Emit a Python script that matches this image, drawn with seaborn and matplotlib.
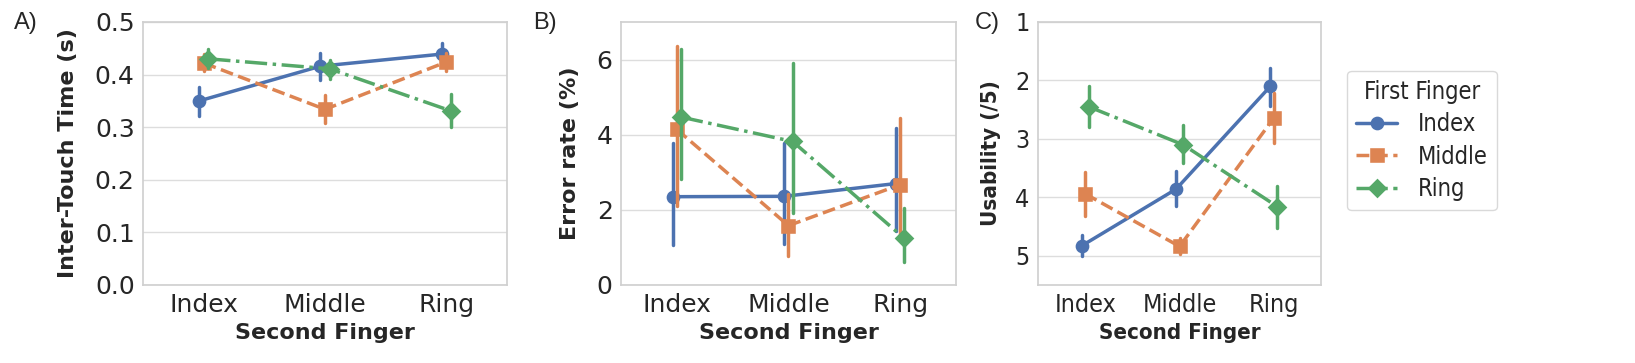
import numpy as np
import pandas as pd
import matplotlib
matplotlib.use("Agg")
import matplotlib.pyplot as plt
from matplotlib.font_manager import FontProperties
import seaborn as sns

# categories
fingers = ["Index", "Middle", "Ring"]

# values are listed per first finger (hue), in order of second finger
# A) inter-touch time (s): mean, lower CI, upper CI
time_mean = {"Index": [0.350, 0.416, 0.439], "Middle": [0.422, 0.334, 0.424], "Ring": [0.430, 0.411, 0.331]}
time_lo = {"Index": [0.322, 0.390, 0.425], "Middle": [0.406, 0.308, 0.406], "Ring": [0.412, 0.392, 0.301]}
time_hi = {"Index": [0.376, 0.442, 0.461], "Middle": [0.440, 0.362, 0.442], "Ring": [0.449, 0.428, 0.363]}

# B) error rate (%)
err_mean = {"Index": [2.35, 2.36, 2.70], "Middle": [4.14, 1.58, 2.67], "Ring": [4.47, 3.82, 1.24]}
err_lo = {"Index": [1.06, 1.08, 1.43], "Middle": [2.10, 0.77, 1.30], "Ring": [2.83, 1.91, 0.60]}
err_hi = {"Index": [3.79, 3.77, 4.19], "Middle": [6.35, 2.42, 4.45], "Ring": [6.27, 5.91, 2.04]}

# C) usability (/5)
use_mean = {"Index": [4.83, 3.86, 2.10], "Middle": [3.94, 4.84, 2.64], "Ring": [2.45, 3.10, 4.16]}
use_lo = {"Index": [4.64, 3.55, 1.79], "Middle": [3.57, 4.69, 2.22], "Ring": [2.09, 2.76, 3.81]}
use_hi = {"Index": [5.01, 4.15, 2.44], "Middle": [4.32, 4.97, 3.07], "Ring": [2.80, 3.42, 4.52]}


def long_table(mean, lo, hi):
    # three rows per point: lower CI, mean, upper CI -> median gives mean, full range gives CI
    rows = []
    for first in fingers:
        for i, second in enumerate(fingers):
            for v in (lo[first][i], mean[first][i], hi[first][i]):
                rows.append({"First Finger": first, "Second Finger": second, "value": v})
    return pd.DataFrame(rows)


sns.set_theme(style="whitegrid", font="DejaVu Sans")
plt.rcParams["axes.edgecolor"] = "#d0d0d0"
plt.rcParams["grid.color"] = "#dddddd"

fig = plt.figure(figsize=(16.35, 3.63), dpi=100)
ax_a = fig.add_axes([0.0875, 0.2149, 0.2226, 0.7245])
ax_b = fig.add_axes([0.3798, 0.2149, 0.2049, 0.7245])
ax_c = fig.add_axes([0.6349, 0.2149, 0.1731, 0.7245])

panels = [
    (ax_a, long_table(time_mean, time_lo, time_hi), "Inter-Touch Time (s)", "normal", 12),
    (ax_b, long_table(err_mean, err_lo, err_hi), "Error rate (%)", "normal", 12),
    (ax_c, long_table(use_mean, use_lo, use_hi), "Usability (/5)", "condensed", 10),
]

for ax, df, ylabel, stretch, pad in panels:
    sns.pointplot(data=df, x="Second Finger", y="value", hue="First Finger",
                  order=fingers, hue_order=fingers, palette="deep",
                  estimator=np.median, errorbar=("pi", 100), dodge=True,
                  markers=["o", "s", "D"], linestyles=["-", "--", "-."],
                  markersize=8, linewidth=2.5, err_kws={"linewidth": 2.5},
                  ax=ax)
    ax.set_xlabel("Second Finger", fontsize=16, fontweight="bold", fontstretch=stretch)
    ax.set_ylabel(ylabel, fontsize=16, fontweight="bold", fontstretch=stretch, labelpad=pad)
    ax.tick_params(axis="both", labelsize=18, length=0, pad=6)
    for lbl in ax.get_xticklabels() + ax.get_yticklabels():
        lbl.set_fontstretch(stretch)
    ax.grid(axis="x", visible=False)
    for s in ax.spines.values():
        s.set_color("#d0d0d0")

ax_a.set_ylim(0, 0.5)
ax_a.set_yticks([0.0, 0.1, 0.2, 0.3, 0.4, 0.5])
ax_a.set_yticklabels(["0.0", "0.1", "0.2", "0.3", "0.4", "0.5"], fontsize=18)
ax_b.set_ylim(0, 7)
ax_b.set_yticks([0, 2, 4, 6])
ax_c.set_ylim(5.5, 1)
ax_c.set_yticks([1, 2, 3, 4, 5])
for lbl in ax_c.get_yticklabels() + ax_c.get_xticklabels():
    lbl.set_fontstretch("condensed")

# panel tags
fig.text(14 / 1635, 1 - 12 / 363, "A)", fontsize=17, family="Liberation Sans", va="top")
fig.text(533 / 1635, 1 - 12 / 363, "B)", fontsize=17, family="Liberation Sans", va="top")
fig.text(975 / 1635, 1 - 12 / 363, "C)", fontsize=17, family="Liberation Sans", va="top",
         fontstretch="condensed")

ax_a.get_legend().remove()
ax_b.get_legend().remove()
prop = FontProperties(family="DejaVu Sans", stretch="condensed", size=17)
leg = ax_c.legend(title="First Finger", loc="upper left", bbox_to_anchor=(1.05, 0.86),
                  prop=prop, frameon=True, handlelength=1.7, handletextpad=0.9,
                  labelspacing=0.35)
leg.get_title().set_fontproperties(prop)
leg.get_frame().set_edgecolor("#d0d0d0")

fig.savefig("out.png", dpi=100)
